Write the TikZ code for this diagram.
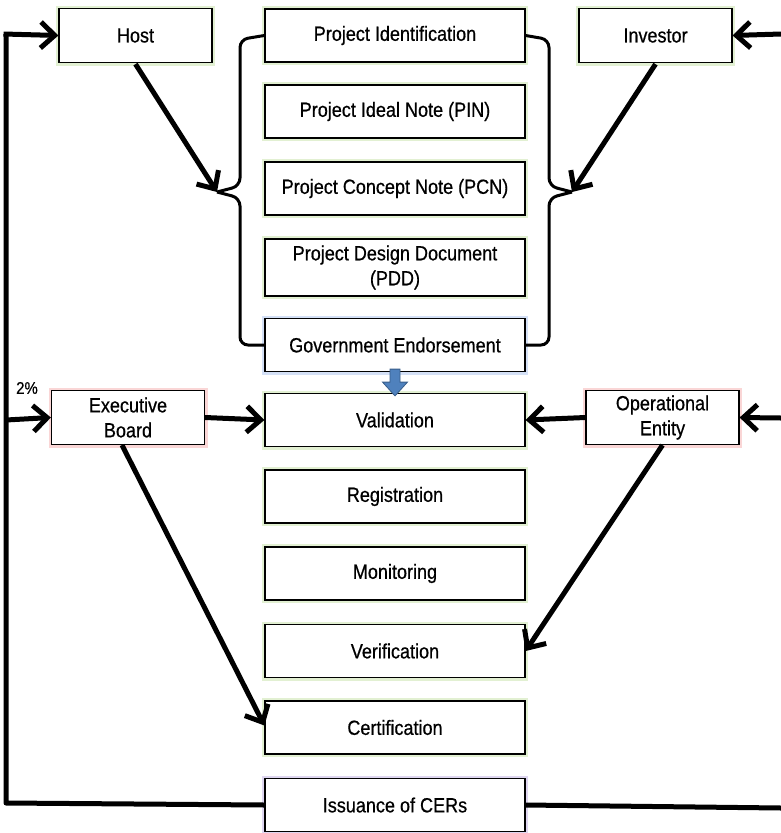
\documentclass[tikz,border=0pt]{standalone}
\usepackage{fontspec}
\setmainfont{Liberation Sans}[FakeStretch=0.88,FakeBold=0.6]
\usetikzlibrary{arrows.meta,calc}
\definecolor{glowG}{RGB}{226,240,210}
\definecolor{glowB}{RGB}{212,224,246}
\definecolor{glowR}{RGB}{250,214,214}
\definecolor{glowP}{RGB}{222,214,240}
\definecolor{officeblue}{RGB}{79,129,189}
\definecolor{officeblueD}{RGB}{56,93,138}
\begin{document}
\begin{tikzpicture}[x=1pt,y=-1pt,
  box/.style={draw=black,line width=1.2pt,fill=white,minimum width=260pt,minimum height=53pt,
    inner sep=2pt,align=center,font=\fontsize{20.5}{25}\selectfont,text=black,
    preaction={draw=#1,line width=6pt}},
  box/.default=glowG,
  side/.style={box=#1,minimum width=153pt,minimum height=54pt},
  conn/.style={line width=5pt,-{Straight Barb[length=14pt,width=26pt,line width=5pt]}},
  plain/.style={line width=5pt},
  brace/.style={line width=3pt,rounded corners=8pt}
]
\useasboundingbox (0,0) rectangle (781,833);

% central column
\node[box] (pid) at (395,35.5) {Project Identification};
\node[box] (pin) at (395,111.5) {Project Ideal Note (PIN)};
\node[box] (pcn) at (395,188.5) {Project Concept Note (PCN)};
\node[box,minimum height=57pt] (pdd) at (395,267.5) {Project Design Document\\(PDD)};
\node[box=glowB] (ge) at (395,345) {Government Endorsement};
\node[box] (val) at (395,420) {Validation};
\node[box] (reg) at (395,496.5) {Registration};
\node[box] (mon) at (395,573.5) {Monitoring};
\node[box] (ver) at (395,651) {Verification};
\node[box] (cer) at (395,727.5) {Certification};
\node[box=glowP] (iss) at (395,805) {Issuance of CERs};

% side boxes
\node[side=glowG] (host) at (135.5,35.5) {Host};
\node[side=glowG] (inv) at (655.5,35.5) {Investor};
\node[side=glowR] (eb) at (128,417.5) {Executive\\Board};
\node[side=glowR] (oe) at (662.5,417.5) {Operational\\Entity};

% braces
\coordinate (lt) at (217,192);
\coordinate (rt) at (572,192);
\draw[brace] (pid.west) -- (240,39.5) -- (240,186) -- (lt);
\draw[brace] (ge.west) -- (240,345) -- (240,198) -- (lt);
\draw[brace] (pid.east) -- (549,39.5) -- (549,186) -- (rt);
\draw[brace] (ge.east) -- (549,345) -- (549,198) -- (rt);

% host / investor arrows to braces
\draw[conn] ($(host.south)+(0,1)$) -- (lt);
\draw[conn] ($(inv.south)+(0,1)$) -- (rt);

% block arrow
\path (ge.south) coordinate (ba) (val.north) coordinate (bb);
\filldraw[fill=officeblue,draw=officeblueD,line width=0.8pt]
  ($(ba)+(-5,-3)$) -- ($(ba)+(5,-3)$) -- ($(ba)+(5,10)$) -- ($(ba)+(12.5,10)$)
  -- ($(bb)+(0,3)$) -- ($(ba)+(-12.5,10)$) -- ($(ba)+(-5,10)$) -- cycle;

% side arrows to validation
\draw[conn] (eb.east) -- (val.west);
\draw[conn] (oe.west) -- (val.east);
\draw[conn] ($(eb.south)+(-6,0)$) -- ($(cer.west)+(0,-2)$);
\draw[conn] (oe.south) -- (ver.east);

% feedback loops
\coordinate (lb) at (6,803);
\coordinate (lt2) at (6,34);
\coordinate (lm) at (6,420);
\coordinate (rb) at (781,808);
\coordinate (rtop) at (781,34);
\coordinate (rm) at (781,418);
\draw[plain,line join=round] (iss.west) -- (lb) -- (lt2);
\draw[conn] ($(lt2)+(-2.5,0)$) -- (host.west);
\draw[conn] (lm) -- (eb.west);
\draw[plain] (iss.east) -- (rb);
\draw[conn] (rtop) -- (inv.east);
\draw[conn] (rm) -- (oe.east);

\node[font=\fontsize{17}{19}\selectfont,inner sep=0pt] (pct) at (27,388) {2\%};
\end{tikzpicture}
\end{document}
